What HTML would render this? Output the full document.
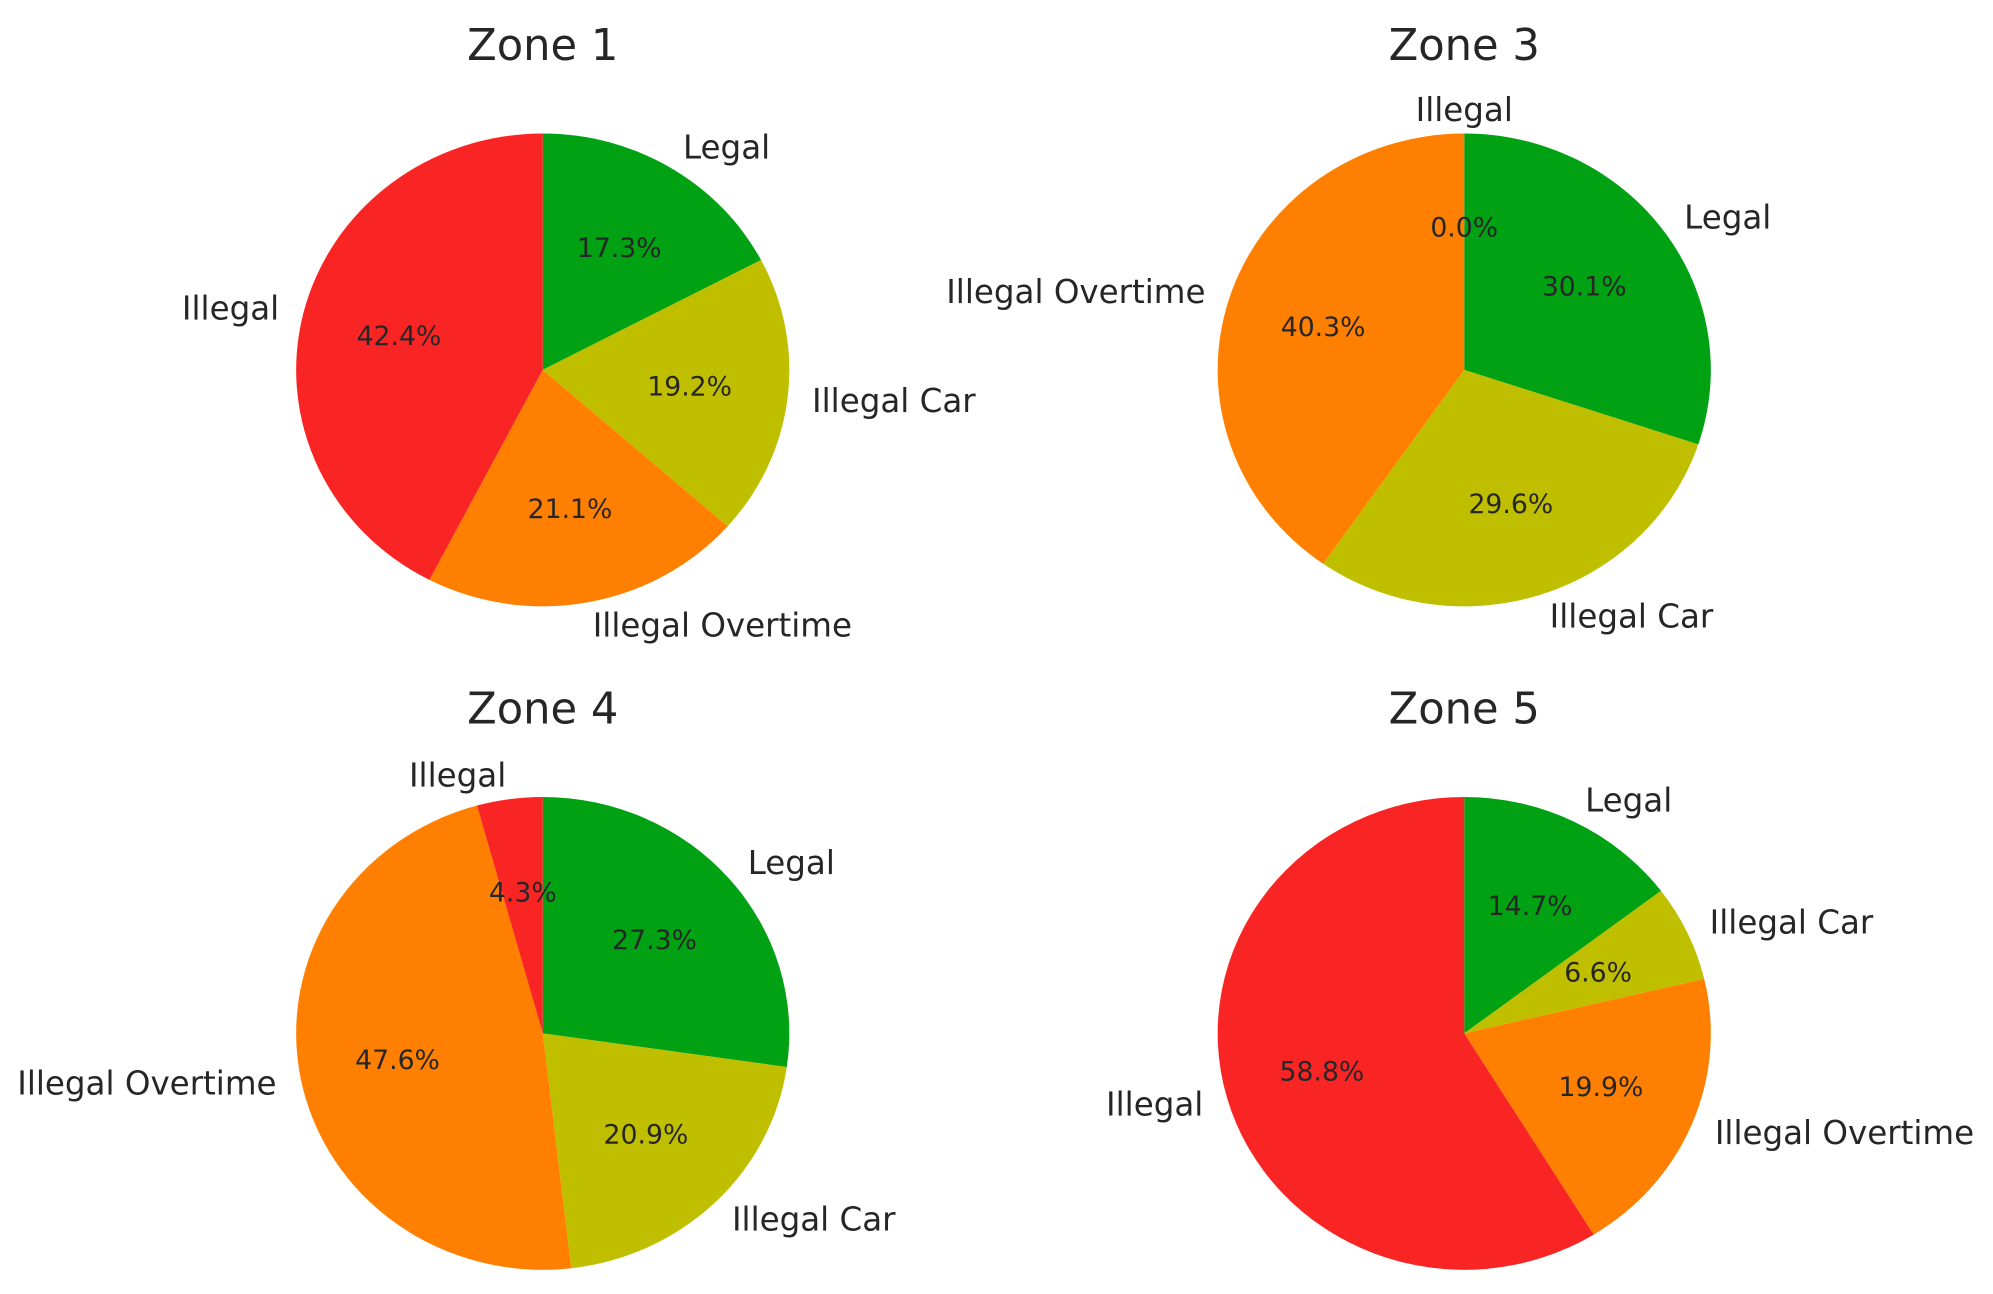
<!DOCTYPE html>
<html><head><meta charset="utf-8"><style>
html,body{margin:0;padding:0;background:#fff;}
svg{display:block;}
text{font-family:"DejaVu Sans","Liberation Sans",sans-serif;fill:#262626;}
</style></head><body>
<svg id="chart" width="1993" height="1294" viewBox="0 0 1568 1018" xmlns="http://www.w3.org/2000/svg"></svg>
<script>
const zoneTitles = ["Zone 1", "Zone 3", "Zone 4", "Zone 5"];
const categories = ["Legal", "Illegal Car", "Illegal Overtime", "Illegal"];
const zone1Values = [17.3, 19.2, 21.1, 42.4];
const zone3Values = [30.1, 29.6, 40.3, 0.0];
const zone4Values = [27.3, 20.9, 47.6, 4.3];
const zone5Values = [14.7, 6.6, 19.9, 58.8];
const zoneValues = [zone1Values, zone3Values, zone4Values, zone5Values];
const colors = ["#00a113", "#bfbf00", "#ff8000", "#f92525"];

const layout = [[427,291,47],[1152,291,47],[427,813,569],[1152,813,569]];
const RX = 194, RY = 186;
const svg = document.getElementById('chart');
const NS = "http://www.w3.org/2000/svg";

function mk(tag, attrs, parent){
  const e = document.createElementNS(NS, tag);
  for (const k in attrs) e.setAttribute(k, attrs[k]);
  parent.appendChild(e);
  return e;
}
function pt(cx, cy, a, f){ return [cx + f*RX*Math.cos(a), cy - f*RY*Math.sin(a)]; }

zoneValues.forEach((vals, zi) => {
  const [cx, cy, ty] = layout[zi];
  const g = mk('g', {}, svg);
  
  
  const title = mk('text', {x: cx, y: ty, 'text-anchor': 'middle', 'font-size': 34}, g);
  title.textContent = zoneTitles[zi];
  
  
  const total = vals.reduce((a, b) => a + b, 0);
  let acc = 0;
  vals.forEach((v, i) => {
    const a0 = Math.PI/2 - acc/total*2*Math.PI;
    acc += v;
    const a1 = Math.PI/2 - acc/total*2*Math.PI;
    const am = (a0 + a1)/2;
    if (v > 0) {
      const p0 = pt(cx, cy, a0, 1), p1 = pt(cx, cy, a1, 1);
      const large = (a0 - a1) > Math.PI ? 1 : 0;
      const path = mk('path', {d: `M${cx},${cy} L${p0[0]},${p0[1]} A${RX},${RY} 0 ${large} 1 ${p1[0]},${p1[1]} Z`, fill: colors[i]}, g);
      
      
    }
    const lp = pt(cx, cy, am, 1.1);
    const lab = mk('text', {x: lp[0], y: lp[1], 'font-size': 25.6, 'dominant-baseline': 'central',
      'text-anchor': Math.cos(am) > 1e-9 ? 'start' : (Math.cos(am) < -1e-9 ? 'end' : 'middle')}, g);
    lab.textContent = categories[i];
    
    
    const pp = pt(cx, cy, am, 0.6);
    const pc = mk('text', {x: pp[0], y: pp[1], 'font-size': 21, 'text-anchor': 'middle', 'dominant-baseline': 'central'}, g);
    pc.textContent = v.toFixed(1) + '%';
    
    
  });
});
</script>
</body></html>
